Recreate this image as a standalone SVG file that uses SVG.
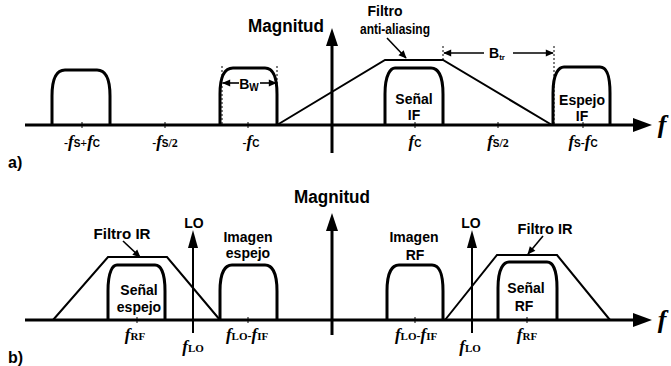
<svg xmlns="http://www.w3.org/2000/svg" width="671" height="366" viewBox="0 0 671 366">
<defs>
<marker id="ah" viewBox="0 0 10 10" refX="9" refY="5" markerWidth="9" markerHeight="8" markerUnits="userSpaceOnUse" orient="auto"><path d="M0,0.5 L10,5 L0,9.5 z" fill="#000"/></marker>
</defs>
<style>
.t{font-family:"Liberation Sans",Arial,sans-serif;font-weight:bold;font-size:14px;fill:#000;text-anchor:middle}
.big{font-size:18px}
.lab{font-family:"Liberation Serif","Times New Roman",serif;font-weight:bold;font-size:12px;fill:#000;text-anchor:middle}
.fi{font-style:italic;font-size:17px}
.sb{font-family:"Liberation Sans",Arial,sans-serif;font-size:10px}
.ax{stroke:#000;stroke-width:3;fill:none}
.pulse{stroke:#000;stroke-width:3;fill:none;stroke-linejoin:round}
.filt{stroke:#000;stroke-width:2;fill:none;stroke-linejoin:miter}
.dot{stroke:#000;stroke-width:1;stroke-dasharray:2 2;fill:none}
.cn{stroke:#000;stroke-width:1.6;fill:none}
.tick{stroke:#000;stroke-width:1}
.ff{font-family:"Liberation Serif","Times New Roman",serif;font-style:italic;font-weight:bold;font-size:26px;fill:#000;text-anchor:middle}
</style>
<rect width="671" height="366" fill="#fff"/>

<!-- Panel a -->
<g id="axes-a">
<line class="ax" x1="25" y1="125" x2="636" y2="125"/>
<polygon points="652,125 633,118 633,132" fill="#000"/>
<line class="ax" x1="332" y1="153" x2="332" y2="44"/>
<polygon points="332,28 326,46 338,46" fill="#000"/>
<g class="tick"><line x1="82" y1="122" x2="82" y2="128"/><line x1="165" y1="122" x2="165" y2="128"/><line x1="248" y1="122" x2="248" y2="128"/><line x1="415" y1="122" x2="415" y2="128"/><line x1="498" y1="122" x2="498" y2="128"/><line x1="583" y1="122" x2="583" y2="128"/></g>
<text class="t big" x="286" y="32" textLength="76" lengthAdjust="spacingAndGlyphs">Magnitud</text>
<text class="ff" x="662" y="133">f</text>
<text class="t" x="8" y="168" style="text-anchor:start;font-size:16px">a)</text>
</g>
<g id="pulse-a1"><path class="pulse" d="M52,125 L52,96 C52,76 58,70 65,70 L97,70 C104,70 110,76 110,96 L110,125"/></g>
<g id="pulse-a2"><path class="pulse" d="M220,125 L220,94 C220,74 226,68 233,68 L265,68 C272,68 277,74 277,94 L277,125"/></g>
<g id="senal-if">
<path class="pulse" d="M385,125 L385,94 C385,74 391,68 395,68 L431,68 C437,68 443,74 443,94 L443,125"/>
<text class="t" x="414" y="104">Señal</text><text class="t" x="414" y="120">IF</text>
</g>
<g id="espejo-if">
<path class="pulse" d="M553,125 L553,93 C553,73 559,67 564,67 L600,67 C606,67 610,73 610,93 L610,125"/>
<text class="t" x="582" y="105">Espejo</text><text class="t" x="582" y="121">IF</text>
</g>
<g id="filtro-aa">
<path class="filt" d="M277,125 L385,60 L443,60 L552,125"/>
<text class="t" x="385" y="16">Filtro</text>
<text class="t" x="395" y="34" textLength="70" lengthAdjust="spacingAndGlyphs">anti-aliasing</text>
</g>
<g id="bw">
<line class="dot" x1="222" y1="66" x2="222" y2="125"/><line class="dot" x1="277" y1="66" x2="277" y2="125"/>
<text class="t" x="249" y="89" font-size="15">B<tspan font-size="10" dy="2">W</tspan></text>
</g>
<g id="btr">
<line class="dot" x1="443" y1="46" x2="443" y2="60"/><line class="dot" x1="554" y1="46" x2="554" y2="125"/>
<text class="t" x="497" y="58" font-size="15">B<tspan font-size="8" dy="2">tr</tspan></text>
</g>
<g id="labels-a">
<text class="lab" x="82" y="147">-<tspan class="fi">f</tspan><tspan class="sb">S</tspan>+<tspan class="fi">f</tspan><tspan class="sb">C</tspan></text>
<text class="lab" x="165" y="147">-<tspan class="fi">f</tspan><tspan class="sb">S</tspan>/2</text>
<text class="lab" x="251" y="147">-<tspan class="fi">f</tspan><tspan class="sb">C</tspan></text>
<text class="lab" x="415" y="147"><tspan class="fi">f</tspan><tspan class="sb">C</tspan></text>
<text class="lab" x="498" y="147"><tspan class="fi">f</tspan><tspan class="sb">S</tspan>/2</text>
<text class="lab" x="583" y="147"><tspan class="fi">f</tspan><tspan class="sb">S</tspan>-<tspan class="fi">f</tspan><tspan class="sb">C</tspan></text>
</g>

<!-- Panel b -->
<g id="axes-b">
<line class="ax" x1="25" y1="320" x2="636" y2="320"/>
<polygon points="652,320 633,313 633,327" fill="#000"/>
<line class="ax" x1="332" y1="335" x2="332" y2="229"/>
<polygon points="332,213 326,231 338,231" fill="#000"/>
<g class="tick"><line x1="137" y1="317" x2="137" y2="323"/><line x1="248" y1="317" x2="248" y2="323"/><line x1="415" y1="317" x2="415" y2="323"/><line x1="527" y1="317" x2="527" y2="323"/></g>
<text class="t big" x="332" y="203" textLength="76" lengthAdjust="spacingAndGlyphs">Magnitud</text>
<text class="ff" x="662" y="328">f</text>
<text class="t" x="8" y="363" style="text-anchor:start;font-size:16px">b)</text>
</g>
<g id="filtro-ir-izq">
<path class="filt" d="M53,320 L108,257 L167,257 L220,320"/>
<text class="t" x="122" y="239" textLength="57" lengthAdjust="spacingAndGlyphs">Filtro IR</text>
</g>
<g id="senal-espejo">
<path class="pulse" d="M108,320 L108,291 C108,271 113,265 117,265 L155,265 C160,265 165,271 165,291 L165,320"/>
<text class="t" x="139" y="295">Señal</text><text class="t" x="139" y="312">espejo</text>
</g>
<g id="lo-izq">
<line x1="193" y1="333" x2="193" y2="246" stroke="#000" stroke-width="2"/>
<polygon points="193,230 188,248 198,248" fill="#000"/>
<text class="t" x="194" y="228">LO</text>
</g>
<g id="imagen-espejo">
<path class="pulse" d="M220,320 L220,291 C220,271 226,265 232,265 L265,265 C271,265 277,271 277,291 L277,320"/>
<text class="t" x="248" y="242">Imagen</text><text class="t" x="248" y="258">espejo</text>
</g>
<g id="imagen-rf">
<path class="pulse" d="M387,320 L387,291 C387,271 393,265 399,265 L432,265 C438,265 443,271 443,291 L443,320"/>
<text class="t" x="414" y="242">Imagen</text><text class="t" x="415" y="260">RF</text>
</g>
<g id="lo-der">
<line x1="472" y1="333" x2="472" y2="246" stroke="#000" stroke-width="2"/>
<polygon points="472,230 467,248 477,248" fill="#000"/>
<text class="t" x="471" y="228">LO</text>
</g>
<g id="filtro-ir-der">
<path class="filt" d="M445,320 L497,255 L557,255 L610,320"/>
<text class="t" x="545" y="234" textLength="55" lengthAdjust="spacingAndGlyphs">Filtro IR</text>
</g>
<g id="senal-rf">
<path class="pulse" d="M498,320 L498,288 C498,268 504,262 509,262 L547,262 C552,262 557,268 557,288 L557,320"/>
<text class="t" x="526" y="293">Señal</text><text class="t" x="524" y="311">RF</text>
</g>
<g id="labels-b">
<text class="lab" x="135" y="340"><tspan class="fi">f</tspan><tspan font-size="11">RF</tspan></text>
<text class="lab" x="193" y="352"><tspan class="fi">f</tspan><tspan font-size="11">LO</tspan></text>
<text class="lab" x="247" y="340"><tspan class="fi">f</tspan><tspan font-size="11">LO</tspan>-<tspan class="fi">f</tspan><tspan font-size="11">IF</tspan></text>
<text class="lab" x="416" y="340"><tspan class="fi">f</tspan><tspan font-size="11">LO</tspan>-<tspan class="fi">f</tspan><tspan font-size="11">IF</tspan></text>
<text class="lab" x="470" y="352"><tspan class="fi">f</tspan><tspan font-size="11">LO</tspan></text>
<text class="lab" x="527" y="340"><tspan class="fi">f</tspan><tspan font-size="11">RF</tspan></text>
</g>

<g id="connectors">
<line class="cn" x1="239" y1="83" x2="223" y2="83" marker-end="url(#ah)"/>
<line class="cn" x1="260" y1="83" x2="276" y2="83" marker-end="url(#ah)"/>
<line class="cn" x1="484" y1="53" x2="444" y2="53" marker-end="url(#ah)"/>
<line class="cn" x1="513" y1="53" x2="553" y2="53" marker-end="url(#ah)"/>
<line class="cn" x1="387" y1="38" x2="406" y2="58" marker-end="url(#ah)"/>
<line class="cn" x1="123" y1="241" x2="140" y2="257" marker-end="url(#ah)"/>
<line class="cn" x1="543" y1="236" x2="528" y2="254" marker-end="url(#ah)"/>
</g>
</svg>
